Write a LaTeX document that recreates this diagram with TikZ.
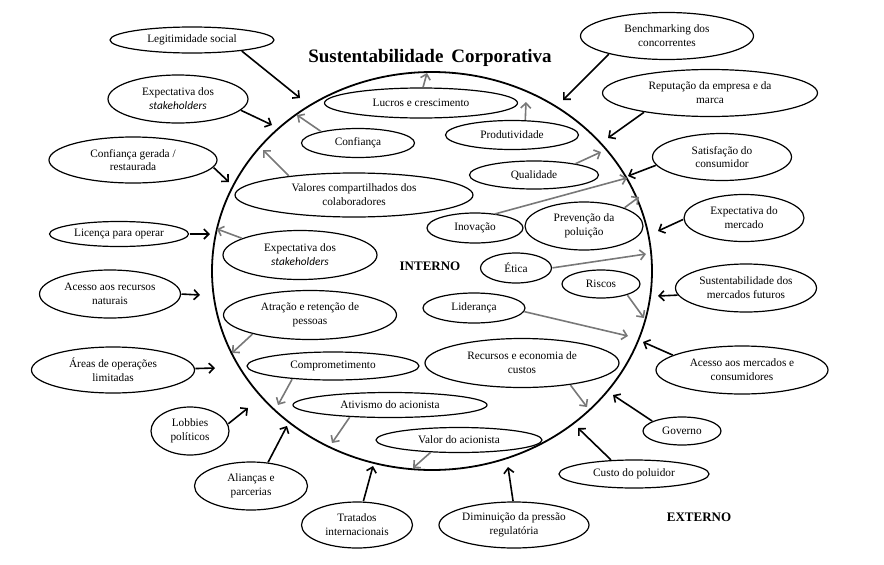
\documentclass[tikz,border=0pt]{standalone}
\usepackage{fontspec}
\setmainfont{Liberation Serif}
\newfontfamily\stkfont{Carlito}
\usetikzlibrary{shapes.geometric,arrows.meta}
\definecolor{arrgray}{RGB}{120,120,120}
\newcommand{\stk}{{\stkfont\itshape stakeholders}}
\begin{document}
\begin{tikzpicture}[x=1pt,y=-1pt,
  ell/.style={draw=black,line width=1.2pt,ellipse,inner sep=0pt,outer sep=0pt,align=center,
    font=\fontsize{11.3}{13.8}\selectfont},
  barr/.style={line width=1.6pt,-{Straight Barb[length=5pt,width=10pt]},shorten <=1pt},
  garr/.style={draw=arrgray,line width=1.6pt,-{Straight Barb[length=5pt,width=10pt]},shorten <=1pt},
  lbl/.style={font=\fontsize{13}{15}\selectfont\bfseries}]
\useasboundingbox (0,0) rectangle (884,565);
% main circle
\draw[line width=1.8pt] (432,271) ellipse [x radius=220, y radius=199];
\node[font=\fontsize{19}{22}\selectfont\bfseries] (title) at (430,58) {Sustentabilidade\, Corporativa};
\node[lbl] (interno) at (430,266) {INTERNO};
\node[lbl] (externo) at (699,517) {EXTERNO};

% outer nodes
\node[ell,minimum width=164,minimum height=26] (legit) at (192,40) {Legitimidade social};
\node[ell,minimum width=140,minimum height=48] (expout) at (178,99) {Expectativa dos\\\stk};
\node[ell,minimum width=168,minimum height=46] (confg) at (133,160) {Confiança gerada /\\restaurada};
\node[ell,minimum width=139,minimum height=25] (licen) at (119,234) {Licença para operar};
\node[ell,minimum width=141,minimum height=48] (acrec) at (110,294) {Acesso aos recursos\\naturais};
\node[ell,minimum width=163,minimum height=46] (areas) at (113,370) {Áreas de operações\\limitadas};
\node[ell,minimum width=78,minimum height=48] (lobb) at (190,431) {Lobbies\\políticos};
\node[ell,minimum width=113,minimum height=48] (alian) at (251,486) {Alianças e\\parcerias};
\node[ell,minimum width=111,minimum height=46] (trat) at (357,525) {Tratados\\internacionais};
\node[ell,minimum width=150,minimum height=46] (dimin) at (514,525) {Diminuição da pressão\\regulatória};
\node[ell,minimum width=150,minimum height=28] (custo) at (634,474) {Custo do poluidor};
\node[ell,minimum width=78,minimum height=28] (gov) at (682,431) {Governo};
\node[ell,minimum width=172,minimum height=48] (acmer) at (742,370) {Acesso aos mercados e\\consumidores};
\node[ell,minimum width=141,minimum height=48] (susmer) at (746,288) {Sustentabilidade dos\\mercados futuros};
\node[ell,minimum width=120,minimum height=47] (expmer) at (744,218) {Expectativa do\\mercado};
\node[ell,minimum width=139,minimum height=47] (satis) at (722,157) {Satisfação do\\consumidor};
\node[ell,minimum width=215,minimum height=47] (reput) at (710,93) {Reputação da empresa e da\\marca};
\node[ell,minimum width=173,minimum height=47] (bench) at (667,36) {Benchmarking dos\\concorrentes};

% inner nodes
\node[ell,minimum width=193,minimum height=30] (lucros) at (421,103) {Lucros e crescimento};
\node[ell,minimum width=113,minimum height=29] (confi) at (358,143) {Confiança};
\node[ell,minimum width=133,minimum height=29] (produt) at (512,135) {Produtividade};
\node[ell,minimum width=129,minimum height=28] (quali) at (534,175) {Qualidade};
\node[ell,minimum width=238,minimum height=44] (valores) at (354,195) {Valores compartilhados dos\\colaboradores};
\node[ell,minimum width=154,minimum height=49] (expin) at (300,255) {Expectativa dos\\\stk};
\node[ell,minimum width=173,minimum height=49] (atra) at (310,315) {Atração e retenção de\\pessoas};
\node[ell,minimum width=172,minimum height=28] (compr) at (333,366) {Comprometimento};
\node[ell,minimum width=194,minimum height=25] (ativ) at (390,405) {Ativismo do acionista};
\node[ell,minimum width=166,minimum height=25] (valor) at (459,440) {Valor do acionista};
\node[ell,minimum width=194,minimum height=49] (recur) at (522,363) {Recursos e economia de\\custos};
\node[ell,minimum width=102,minimum height=30] (lider) at (474,308) {Liderança};
\node[ell,minimum width=78,minimum height=28] (riscos) at (601,284) {Riscos};
\node[ell,minimum width=71,minimum height=30] (etica) at (516,268) {Ética};
\node[ell,minimum width=96,minimum height=30] (inov) at (475,228) {Inovação};
\node[ell,minimum width=118,minimum height=48] (preven) at (584,226) {Prevenção da\\poluição};

% arrow tips
\coordinate (t1) at (300,98);
\coordinate (t2) at (272,125);
\coordinate (t3) at (229,182);
\coordinate (t4) at (210,234);
\coordinate (t5) at (200,295);
\coordinate (t6) at (215,368);
\coordinate (t7) at (248,408);
\coordinate (t8) at (287,426);
\coordinate (t9) at (373,466);
\coordinate (t10) at (508,467);
\coordinate (t11) at (578,428);
\coordinate (t12) at (613,395);
\coordinate (t13) at (643,342);
\coordinate (t14) at (658,296);
\coordinate (t15) at (658,231);
\coordinate (t16) at (628,176);
\coordinate (t17) at (608,138);
\coordinate (t18) at (563,100);

\coordinate (ga) at (427,73);
\coordinate (gb) at (297,115);
\coordinate (gc) at (526,102);
\coordinate (gd) at (601,152);
\coordinate (ge) at (263,150);
\coordinate (gf) at (217,229);
\coordinate (gg) at (232,353);
\coordinate (gh) at (278,405);
\coordinate (gi) at (332,443);
\coordinate (gj) at (413,468);
\coordinate (gk) at (587,407);
\coordinate (gl) at (628,336);
\coordinate (gm) at (644,318);
\coordinate (gn) at (646,254);
\coordinate (go) at (627,178);
\coordinate (gp) at (639,197);

% black arrows
\draw[barr] (legit.-12) -- (t1);
\draw[barr] (expout.-10) -- (t2);
\draw[barr] (confg.-5) -- (t3);
\draw[barr] (licen.0) -- (t4);
\draw[barr] (acrec.0) -- (t5);
\draw[barr] (areas.1) -- (t6);
\draw[barr] (lobb.10) -- (t7);
\draw[barr] (alian.54) -- (t8);
\draw[barr] (trat.75) -- (t9);
\draw[barr] (dimin.92) -- (t10);
\draw[barr] (custo.149) -- (t11);
\draw[barr] (gov.162) -- (t12);
\draw[barr] (acmer.168) -- (t13);
\draw[barr] (susmer.186) -- (t14);
\draw[barr] (expmer.181) -- (t15);
\draw[barr] (satis.187) -- (t16);
\draw[barr] (reput.196) -- (t17);
\draw[barr] (bench.197) -- (t18);

% gray arrows
\draw[garr] (lucros.83) -- (ga);
\draw[garr] (confi.163) -- (gb);
\draw[garr] (produt.47) -- (gc);
\draw[garr] (quali.15) -- (gd);
\draw[garr] (valores.164) -- (ge);
\draw[garr] (expin.164) -- (gf);
\draw[garr] (atra.198) -- (gg);
\draw[garr] (compr.197) -- (gh);
\draw[garr] (ativ.196) -- (gi);
\draw[garr] (valor.203) -- (gj);
\draw[garr] (recur.-24) -- (gk);
\draw[garr] (lider.-4) -- (gl);
\draw[garr] (riscos.-22) -- (gm);
\draw[garr] (etica.0) -- (gn);
\draw[garr] (inov.36) -- (go);
\draw[garr] (preven.24) -- (gp);
\end{tikzpicture}
\end{document}
